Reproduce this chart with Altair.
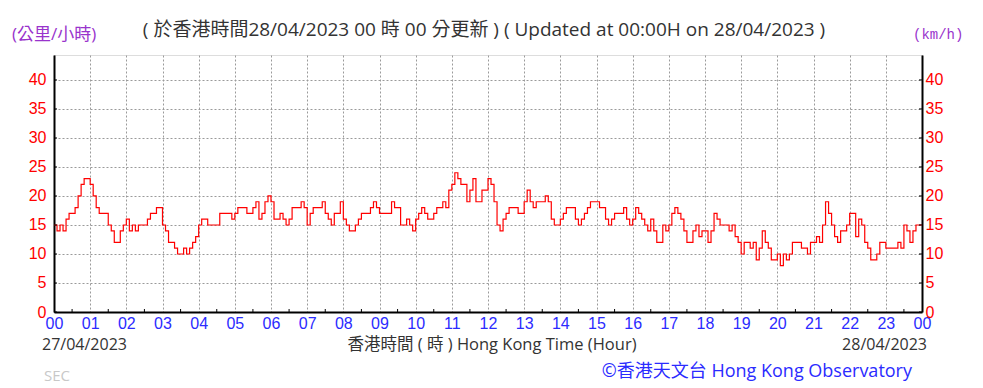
import altair as alt
import pandas as pd

# 5-minute wind speed readings (km/h), 27/04/2023 00:00 -> 28/04/2023 00:00
minutes = list(range(0, 1441, 5))
speeds = [
    15, 14, 15, 14, 16, 17, 17, 18, 20, 22, 23, 23,   # 00
    22, 20, 18, 17, 17, 17, 15, 14, 12, 12, 14, 15,   # 01
    16, 14, 15, 14, 15, 15, 15, 16, 17, 17, 18, 18,   # 02
    15, 14, 12, 12, 11, 10, 10, 11, 10, 11, 12, 13,   # 03
    15, 16, 16, 15, 15, 15, 15, 17, 17, 17, 17, 16,   # 04
    17, 18, 18, 18, 17, 17, 18, 19, 16, 17, 19, 20,   # 05
    19, 16, 16, 17, 16, 15, 16, 18, 18, 18, 19, 18,   # 06
    15, 17, 18, 18, 18, 19, 17, 16, 15, 17, 17, 19,   # 07
    16, 15, 14, 14, 15, 16, 17, 17, 17, 18, 19, 18,   # 08
    17, 17, 17, 17, 19, 18, 18, 15, 15, 16, 15, 14,   # 09
    16, 17, 18, 17, 16, 16, 17, 18, 18, 19, 18, 21,   # 10
    22, 24, 23, 22, 22, 19, 21, 23, 19, 19, 21, 21,   # 11
    23, 22, 19, 15, 14, 16, 17, 18, 18, 18, 17, 17,   # 12
    19, 21, 19, 18, 19, 19, 19, 20, 19, 16, 15, 15,   # 13
    16, 17, 18, 18, 18, 16, 15, 16, 17, 18, 19, 19,   # 14
    19, 18, 18, 16, 15, 16, 17, 17, 17, 18, 16, 15,   # 15
    16, 18, 17, 16, 15, 14, 16, 14, 12, 12, 15, 14,   # 16
    15, 17, 18, 17, 16, 14, 12, 12, 14, 15, 13, 14,   # 17
    14, 12, 14, 17, 16, 15, 15, 15, 14, 15, 13, 12,   # 18
    10, 12, 12, 11, 12, 9, 11, 14, 12, 11, 9, 9,      # 19
    10, 8, 10, 9, 10, 12, 12, 12, 11, 11, 10, 12,     # 20
    12, 13, 12, 15, 19, 17, 15, 13, 12, 14, 14, 15,   # 21
    17, 17, 13, 16, 15, 12, 11, 9, 9, 10, 12, 12,     # 22
    11, 11, 11, 11, 12, 11, 15, 14, 12, 14, 15, 15,   # 23
    15,                                               # 24
]

hour_ticks = list(range(0, 25))
half_hour_ticks = [h + 0.5 for h in range(24)]
y_ticks = list(range(0, 45, 5))

title_text = "( 於香港時間28/04/2023 00 時 00 分更新 ) ( Updated at 00:00H on 28/04/2023 )"
unit_left = "(公里/小時)"
unit_right = "(km/h)"
date_left = "27/04/2023"
date_right = "28/04/2023"
x_title = "香港時間 ( 時 ) Hong Kong Time (Hour)"
sec_text = "SEC"
credit_text = "©香港天文台 Hong Kong Observatory"

W, H = 868, 257
YMAX = 44.3

df = pd.DataFrame({"hour": [m / 60 for m in minutes], "speed": speeds})
ydf = pd.DataFrame({"v": y_ticks})
hdf = pd.DataFrame({"h": half_hour_ticks})

x_scale = alt.Scale(domain=[0, 24], nice=False, zero=False)
y_scale = alt.Scale(domain=[0, YMAX], nice=False)

LABEL_FONT = "Liberation Sans"
TEXT_FONT = "Open Sans, Noto Sans CJK TC, sans-serif"

x_axis = alt.Axis(
    values=hour_ticks,
    labelExpr="datum.value == 24 ? '00' : (datum.value < 10 ? '0' + datum.value : '' + datum.value)",
    grid=True, gridDash=[2, 2], gridColor="#9a9a9a", gridWidth=1,
    domainColor="#000000", domainWidth=2, ticks=False,
    labelColor="#2b2bff", labelFontSize=16, labelFont=LABEL_FONT,
    labelPadding=3, labelFlush=False, labelOverlap=False, title=None,
)
y_axis_left = alt.Axis(
    orient="left", values=y_ticks,
    grid=True, gridDash=[2, 2], gridColor="#9a9a9a", gridWidth=1,
    domainColor="#000000", domainWidth=2, ticks=False,
    labelColor="#ff0000", labelFontSize=16, labelFont=LABEL_FONT,
    labelPadding=8, labelFlush=False, labelOverlap=False, title=None,
)
y_axis_right = alt.Axis(
    orient="right", values=y_ticks, grid=False,
    domainColor="#000000", domainWidth=2, ticks=False,
    labelColor="#ff0000", labelFontSize=16, labelFont=LABEL_FONT,
    labelPadding=3, labelFlush=False, labelOverlap=False, title=None,
)

line = alt.Chart(df).mark_line(
    interpolate="step-after", color="#ff0000", strokeWidth=1.2
).encode(
    x=alt.X("hour:Q", scale=x_scale, axis=x_axis),
    y=alt.Y("speed:Q", scale=y_scale, axis=y_axis_left),
)

right_ticks = alt.Chart(ydf).mark_rule(color="#000000", strokeWidth=1).encode(
    x=alt.value(W), x2=alt.value(W - 3),
    y=alt.Y("v:Q", scale=y_scale, axis=y_axis_right),
)
left_ticks = alt.Chart(ydf).mark_rule(color="#000000", strokeWidth=1).encode(
    x=alt.value(0), x2=alt.value(3),
    y=alt.Y("v:Q", scale=y_scale, axis=None),
)
bottom_ticks = alt.Chart(hdf).mark_rule(color="#000000", strokeWidth=1).encode(
    x=alt.X("h:Q", scale=x_scale, axis=x_axis),
    y=alt.value(H), y2=alt.value(H - 3),
)


def label(text, x, y, size, color, align="left", font=TEXT_FONT):
    return alt.Chart(pd.DataFrame({"t": [text]})).mark_text(
        align=align, baseline="middle", fontSize=size, color=color, font=font
    ).encode(text="t:N", x=alt.value(x), y=alt.value(y))


texts = [
    label(title_text, 430, -25, 19, "#333333", align="center"),
    label(unit_left, -42, -20, 17, "#9933cc"),
    label(unit_right, 859, -20, 14, "#9933cc", font="Liberation Mono"),
    label(date_left, -12, 290, 16, "#333333"),
    label(x_title, 438, 290, 16.5, "#333333", align="center"),
    label(date_right, 873, 290, 16, "#333333", align="right"),
    label(sec_text, -10, 321, 15, "#c8c8c8"),
    label(credit_text, 858, 317, 18, "#2b2bff", align="right"),
]

chart = alt.layer(line, right_ticks, left_ticks, bottom_ticks, *texts).resolve_axis(
    y="independent"
).properties(
    width=W, height=H,
    padding={"left": 46, "top": 47, "right": 53, "bottom": 76},
    autosize=alt.AutoSizeParams(type="none"),
).configure_view(stroke=None).configure(background="#ffffff")

chart.save("out.html", embed_options={"renderer": "svg", "actions": False})
